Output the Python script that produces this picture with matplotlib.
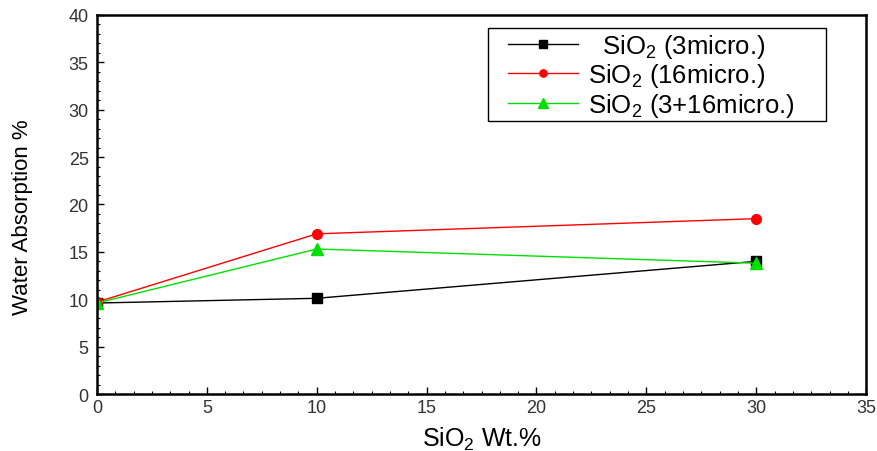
import matplotlib
matplotlib.use('Agg')
import matplotlib.pyplot as plt
from matplotlib.ticker import MultipleLocator
from matplotlib.patches import Rectangle

plt.rcParams['font.family'] = ['Liberation Sans', 'DejaVu Sans']
plt.rcParams['mathtext.default'] = 'regular'

# data
sio2_wt = [0, 10, 30]
absorb_3 = [9.6, 10.1, 14.0]
absorb_16 = [9.7, 16.9, 18.5]
absorb_mix = [9.6, 15.3, 13.8]

labels = ['  SiO$_2$ (3micro.)', 'SiO$_2$ (16micro.)', 'SiO$_2$ (3+16micro.)']

fig = plt.figure(figsize=(8.77, 4.52), dpi=100)
ax = fig.add_axes([0.1106, 0.126, 0.877, 0.839])

ax.plot(sio2_wt, absorb_3, color='black', marker='s', markersize=7, lw=1, label=labels[0])
ax.plot(sio2_wt, absorb_16, color='red', marker='o', markersize=7, lw=1, label=labels[1])
ax.plot(sio2_wt, absorb_mix, color='#00e000', marker='^', markersize=9, lw=1, label=labels[2])

ax.set_xlim(0, 35)
ax.set_ylim(0, 40)
ax.xaxis.set_major_locator(MultipleLocator(5))
ax.xaxis.set_minor_locator(MultipleLocator(5 / 6))
ax.yaxis.set_major_locator(MultipleLocator(5))
ax.yaxis.set_minor_locator(MultipleLocator(1))
ax.tick_params(which='both', direction='in', labelsize=13, labelcolor='#333333')
ax.tick_params(which='major', length=5, width=1)
ax.tick_params(which='minor', length=2.5, width=0.8)
ax.tick_params(axis='y', pad=6)
for s in ax.spines.values():
    s.set_linewidth(1.8)

ax.set_xlabel('SiO$_2$ Wt.%', fontsize=18)
ax.set_ylabel('Water Absorption %', fontsize=16)
ax.yaxis.set_label_coords(-0.083, 0.47)
ax.xaxis.set_label_coords(0.5, -0.08)

# legend box drawn separately so the side padding can be wider than the top
ax.add_patch(Rectangle((0.5085, 0.720), 0.4395, 0.2457, transform=ax.transAxes,
                       fill=True, facecolor='white', edgecolor='black', lw=1.0, zorder=4))
leg = ax.legend(loc='upper left', bbox_to_anchor=(0.535, 0.955), fontsize=18.5,
                handlelength=2.7, handletextpad=0.4, markerscale=0.75,
                frameon=False, borderpad=0, labelspacing=0.06, borderaxespad=0)
leg.set_zorder(5)

fig.savefig('out.png', dpi=100)
